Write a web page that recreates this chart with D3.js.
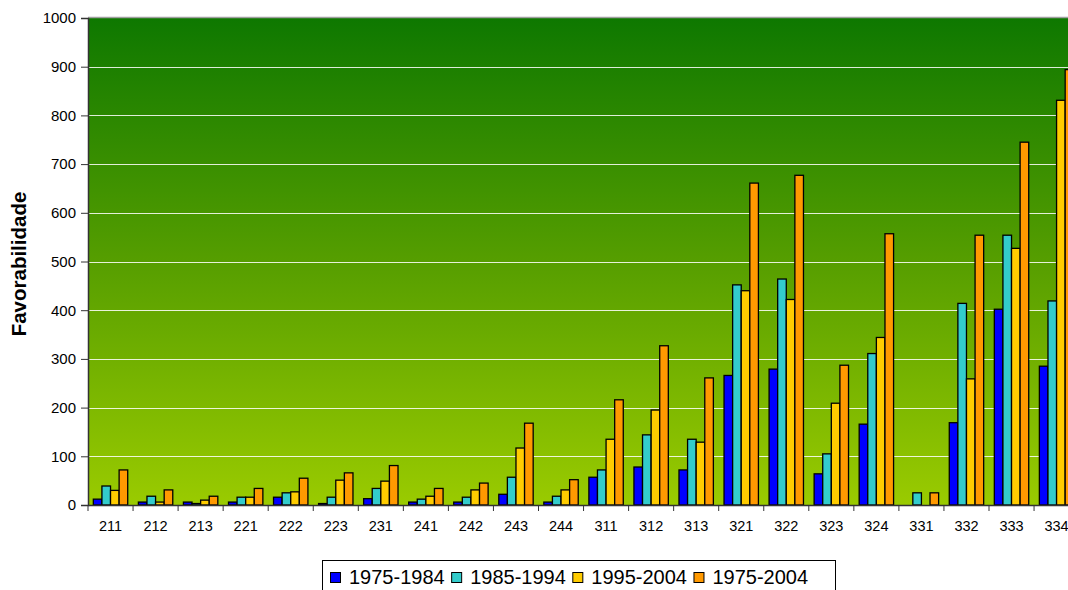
<!DOCTYPE html>
<html><head><meta charset="utf-8">
<script src="https://cdn.jsdelivr.net/npm/d3@7"></script>
<style>body{margin:0;background:#fff;overflow:hidden}svg{display:block;font-family:Arial,"Liberation Sans",sans-serif}</style>
</head><body><svg id="c" width="1068" height="590"></svg>
<script>
const categories = ["211","212","213","221","222","223","231","241","242","243","244","311","312","313","321","322","323","324","331","332","333","334"];
const seriesNames = ["1975-1984","1985-1994","1995-2004","1975-2004"];
const s1975_1984 = [12,6,6,6,16,3,13,6,6,22,6,57,78,72,266,279,64,166,0,169,402,285];
const s1985_1994 = [39,18,3,16,25,16,34,12,16,57,18,72,144,135,452,464,105,311,25,414,554,419];
const s1995_2004 = [30,6,10,16,27,51,49,18,31,117,31,135,195,129,440,422,209,344,0,259,527,831];
const s1975_2004 = [72,31,18,34,55,66,81,34,45,168,52,216,327,261,661,677,287,557,25,554,745,894];
const seriesColors = ["#0000ff","#33cccc","#ffcc00","#ff9900"];
const yTicks = [0,100,200,300,400,500,600,700,800,900,1000];
const yTitle = "Favorabilidade";

const series = [s1975_1984,s1985_1994,s1995_2004,s1975_2004];
const svg = d3.select("#c");
const L = 88, T = 18, B = 505, bandW = 45.05;
const R = L + bandW*categories.length;

const defs = svg.append("defs");
const g = defs.append("linearGradient").attr("id","bg").attr("x1",0).attr("y1",0).attr("x2",0).attr("y2",1);
g.append("stop").attr("offset","0%").attr("stop-color","#0e7800");
g.append("stop").attr("offset","50%").attr("stop-color","#569e00");
g.append("stop").attr("offset","100%").attr("stop-color","#9acb00");

const x0 = d3.scaleBand().domain(categories).range([L,R]).paddingInner(0).paddingOuter(0);
const x1 = d3.scaleBand().domain(d3.range(4)).range([0,x0.bandwidth()]).paddingInner(0).paddingOuter(0.62);
const y = d3.scaleLinear().domain([0,1000]).range([B,T]);

svg.append("rect").attr("x",L).attr("y",T).attr("width",R-L).attr("height",B-T).attr("fill","url(#bg)");

// gridlines
svg.append("g").selectAll("line").data(yTicks.filter(d=>d>0&&d<1000)).join("line")
  .attr("x1",L).attr("x2",R).attr("y1",d=>Math.round(y(d))+0.5).attr("y2",d=>Math.round(y(d))+0.5)
  .attr("stroke","#ffffff").attr("stroke-opacity",0.85).attr("stroke-width",1);
// top border
svg.append("line").attr("x1",L).attr("x2",R).attr("y1",T-0.5).attr("y2",T-0.5).attr("stroke","#a0a0a0").attr("stroke-width",1.5);

// bars
const groups = svg.append("g").selectAll("g").data(categories).join("g")
  .attr("transform",d=>`translate(${x0(d)},0)`);
groups.selectAll("rect").data((d,i)=>series.map((s,k)=>({k,v:s[i]})).filter(o=>o.v>0)).join("rect")
  .attr("x",o=>x1(o.k)).attr("width",x1.bandwidth())
  .attr("y",o=>y(o.v)).attr("height",o=>B-y(o.v))
  .attr("fill",o=>seriesColors[o.k]).attr("stroke","#000").attr("stroke-width",1.3);

// y axis
const ya = svg.append("g").attr("transform",`translate(${L},0)`)
  .call(d3.axisLeft(y).tickValues(yTicks).tickSize(7).tickPadding(5).tickFormat(d3.format("d")));
ya.select(".domain").attr("stroke","#333").attr("stroke-width",1.5);
ya.selectAll(".tick line").attr("stroke","#333");
ya.selectAll("text").attr("font-size",15).attr("fill","#000").attr("font-family","Arial, Liberation Sans, sans-serif");

// x axis
const xa = svg.append("g").attr("transform",`translate(0,${B})`)
  .call(d3.axisBottom(x0).tickSize(0).tickPadding(16));
xa.select(".domain").attr("stroke","#333").attr("stroke-width",1.5);
xa.selectAll("text").attr("font-size",14.5).attr("fill","#000").attr("font-family","Arial, Liberation Sans, sans-serif");
svg.append("g").selectAll("line").data(categories.map((c,i)=>i).concat([categories.length])).join("line")
  .attr("x1",i=>L+i*bandW).attr("x2",i=>L+i*bandW).attr("y1",B).attr("y2",B+6).attr("stroke","#333");

// y title
svg.append("text").attr("transform","translate(26,264) rotate(-90)").attr("text-anchor","middle")
  .attr("font-weight","bold").attr("font-size",20.5).text(yTitle);

// legend
const lg = svg.append("g");
const box = lg.append("rect").attr("x",322.5).attr("y",560.5).attr("width",513).attr("height",40).attr("fill","#fff").attr("stroke","#000");
let cx = 330;
seriesNames.forEach((n,k)=>{
  lg.append("rect").attr("x",cx+0.5).attr("y",572.5).attr("width",10).attr("height",10).attr("fill",seriesColors[k]).attr("stroke","#000");
  const t = lg.append("text").attr("x",cx+19).attr("y",584).attr("font-size",20).text(n);
  cx += 19 + t.node().getComputedTextLength() + 6.5;
});
</script></body></html>
